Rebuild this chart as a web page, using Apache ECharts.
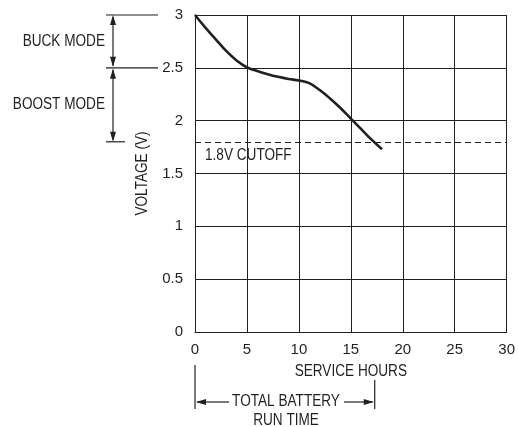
<!DOCTYPE html>
<html>
<head>
<meta charset="utf-8">
<script src="https://cdn.jsdelivr.net/npm/echarts@6/dist/echarts.min.js"></script>
<style>
  html, body { margin: 0; padding: 0; background: #fff; }
  #chart { width: 518px; height: 427px; }
</style>
</head>
<body>
<div id="chart"></div>
<script>
// Discharge curve: service hours vs. battery voltage
const hours = [0, 1, 2, 3, 4, 5, 6, 7, 8, 9, 10, 11, 12, 13, 14, 15, 16, 17, 18];
const volts = [3.0, 2.88, 2.77, 2.66, 2.57, 2.505, 2.47, 2.44, 2.415, 2.395, 2.38, 2.355, 2.29, 2.21, 2.12, 2.02, 1.92, 1.82, 1.73];

const xTickLabels = ['0', '5', '10', '15', '20', '25', '30'];
const yTickLabels = ['0', '0.5', '1', '1.5', '2', '2.5', '3'];

const cutoffVolts = 1.8;
const buckRange = [2.5, 3.0];
const boostRange = [1.8, 2.5];
const runTimeHours = 17.3;

const FONT = '"Liberation Sans", Arial, sans-serif';
const INK = '#231f20';
const NARROW = 0.85;   // horizontal squeeze for a condensed look

const chart = echarts.init(document.getElementById('chart'), null, { renderer: 'canvas' });

chart.setOption({
  animation: false,
  backgroundColor: '#fff',
  grid: { left: 195, top: 15, right: 6, bottom: 95 },
  xAxis: {
    type: 'value', min: 0, max: 30, interval: 5,
    axisLine: { show: true, lineStyle: { color: INK, width: 1 } },
    axisTick: { show: false },
    axisLabel: {
      margin: 10, fontFamily: FONT, fontSize: 15, color: INK,
      formatter: v => xTickLabels[Math.round(v / 5)]
    },
    splitLine: { show: true, showMinLine: true, showMaxLine: true, lineStyle: { color: INK, width: 1 } }
  },
  yAxis: {
    type: 'value', min: 0, max: 3, interval: 0.5,
    axisLine: { show: true, lineStyle: { color: INK, width: 1 } },
    axisTick: { show: false },
    axisLabel: {
      margin: 12, fontFamily: FONT, fontSize: 15, color: INK,
      formatter: v => yTickLabels[Math.round(v / 0.5)]
    },
    splitLine: { show: true, showMinLine: true, showMaxLine: true, lineStyle: { color: INK, width: 1 } }
  },
  series: [{
    type: 'line',
    data: hours.map((h, i) => [h, volts[i]]),
    smooth: 0.4,
    showSymbol: false,
    lineStyle: { color: INK, width: 2.6 },
    markLine: {
      silent: true, symbol: 'none', label: { show: false },
      lineStyle: { color: INK, width: 1, type: [6, 4] },
      data: [{ yAxis: cutoffVolts }]
    }
  }]
});

// Annotations placed through the axes' own scales
const px = (x, y) => chart.convertToPixel({ gridIndex: 0 }, [x, y]);
const x0 = px(0, 0)[0];
const x30 = px(30, 0)[0];
const yBase = px(0, 0)[1];
const yOf = v => px(0, v)[1];

function line(x1, y1, x2, y2, w) {
  return { type: 'line', shape: { x1, y1, x2, y2 }, style: { stroke: INK, lineWidth: w || 1.2 }, silent: true };
}
function head(tx, ty, dir) {
  const L = 10, W = 3;
  let pts;
  if (dir === 'up') pts = [[tx, ty], [tx - W, ty + L], [tx + W, ty + L]];
  if (dir === 'down') pts = [[tx, ty], [tx - W, ty - L], [tx + W, ty - L]];
  if (dir === 'left') pts = [[tx, ty], [tx + L, ty - W], [tx + L, ty + W]];
  if (dir === 'right') pts = [[tx, ty], [tx - L, ty - W], [tx - L, ty + W]];
  return { type: 'polygon', shape: { points: pts }, style: { fill: INK }, silent: true };
}
function text(str, x, y, align, rotation) {
  return {
    type: 'text', x, y, silent: true, scaleX: NARROW, rotation: rotation || 0,
    style: { text: str, fontFamily: FONT, fontSize: 16, fill: INK, align: align || 'center', verticalAlign: 'middle' }
  };
}

const yTop = yOf(buckRange[1]);
const yMid = yOf(buckRange[0]);
const yLow = yOf(boostRange[0]);
const ax = 113;
const xRun = px(runTimeHours, 0)[0];
const yArrow = 402;
const xMidRun = 286;

const elements = [
  // axis titles
  text('SERVICE HOURS', (x0 + x30) / 2, yBase + 40),
  text('VOLTAGE (V)', 143, (yTop + yBase) / 2, 'center', Math.PI / 2),
  // buck / boost mode brackets
  line(106, yTop, 158, yTop),
  line(106, yMid, 158, yMid),
  line(106, yLow, 125, yLow),
  line(ax, yTop + 2, ax, yMid - 2),
  head(ax, yTop, 'up'), head(ax, yMid - 1, 'down'),
  line(ax, yMid + 2, ax, yLow - 2),
  head(ax, yMid + 1, 'up'), head(ax, yLow, 'down'),
  text('BUCK MODE', 105, (yTop + yMid) / 2, 'right'),
  text('BOOST MODE', 105, (yMid + yLow) / 2, 'right'),
  // cutoff label
  text('1.8V CUTOFF', x0 + 10, yOf(cutoffVolts) + 14, 'left'),
  // total run time span
  line(x0, 365, x0, 409),
  line(xRun, 380, xRun, 409),
  line(x0 + 2, yArrow, 229, yArrow),
  head(x0 + 1, yArrow, 'left'),
  line(344, yArrow, xRun - 2, yArrow),
  head(xRun - 1, yArrow, 'right'),
  text('TOTAL BATTERY', xMidRun, yArrow),
  text('RUN TIME', xMidRun, yArrow + 19)
];

chart.setOption({ graphic: { elements } });
</script>
</body>
</html>
